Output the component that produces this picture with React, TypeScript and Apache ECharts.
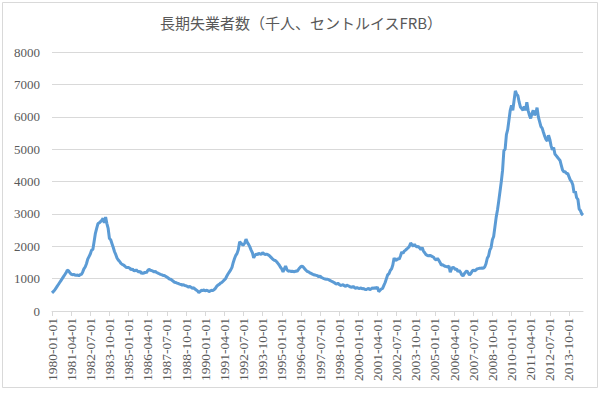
import React, { useEffect, useRef } from "react";
import * as echarts from "echarts";

const TITLE = "長期失業者数（千人、セントルイスFRB）";
const START_YEAR = 1980;

// Monthly long-term unemployed (thousands), one row per year (Jan..Dec)
const y1980 = [560, 600, 640, 700, 760, 820, 880, 940, 1000, 1060, 1120, 1180];
const y1981 = [1260, 1240, 1180, 1140, 1120, 1130, 1110, 1100, 1110, 1090, 1120, 1130];
const y1982 = [1200, 1300, 1360, 1460, 1600, 1680, 1760, 1880, 1900, 2150, 2400, 2550];
const y1983 = [2700, 2720, 2760, 2800, 2860, 2720, 2900, 2700, 2550, 2240, 2200, 2080];
const y1984 = [1960, 1830, 1740, 1630, 1570, 1530, 1470, 1440, 1420, 1390, 1350, 1340];
const y1985 = [1340, 1320, 1270, 1300, 1250, 1240, 1270, 1230, 1200, 1230, 1160, 1180];
const y1986 = [1160, 1210, 1180, 1250, 1290, 1260, 1250, 1230, 1210, 1220, 1190, 1170];
const y1987 = [1150, 1130, 1120, 1100, 1100, 1070, 1050, 1020, 990, 980, 950, 920];
const y1988 = [890, 880, 860, 850, 830, 820, 800, 810, 790, 780, 760, 740];
const y1989 = [760, 730, 700, 720, 680, 650, 620, 570, 600, 640, 630, 650];
const y1990 = [620, 640, 630, 600, 620, 640, 630, 660, 700, 760, 800, 820];
const y1991 = [860, 880, 920, 960, 1000, 1080, 1150, 1210, 1270, 1350, 1500, 1620];
const y1992 = [1720, 1780, 1900, 2140, 2100, 2050, 2040, 2100, 2220, 2120, 2060, 1980];
const y1993 = [1880, 1800, 1640, 1720, 1760, 1740, 1780, 1760, 1750, 1800, 1770, 1740];
const y1994 = [1760, 1740, 1720, 1680, 1640, 1600, 1570, 1560, 1520, 1470, 1420, 1350];
const y1995 = [1300, 1210, 1300, 1390, 1280, 1230, 1240, 1220, 1230, 1220, 1210, 1240];
const y1996 = [1220, 1280, 1330, 1370, 1390, 1350, 1300, 1260, 1220, 1210, 1180, 1160];
const y1997 = [1140, 1120, 1110, 1100, 1090, 1060, 1080, 1040, 1020, 1000, 990, 980];
const y1998 = [980, 960, 940, 920, 900, 880, 850, 830, 860, 820, 790, 800];
const y1999 = [810, 780, 760, 800, 780, 760, 740, 730, 760, 720, 700, 730];
const y2000 = [700, 690, 720, 680, 700, 670, 660, 680, 700, 660, 680, 720];
const y2001 = [690, 720, 700, 740, 600, 640, 680, 700, 790, 880, 1000, 1120];
const y2002 = [1150, 1250, 1300, 1420, 1640, 1560, 1580, 1620, 1600, 1700, 1820, 1780];
const y2003 = [1850, 1880, 1920, 1950, 2000, 2100, 2050, 2000, 2060, 2000, 1980, 1990];
const y2004 = [1950, 1900, 1960, 1850, 1800, 1740, 1720, 1700, 1720, 1700, 1680, 1660];
const y2005 = [1600, 1580, 1620, 1570, 1500, 1420, 1430, 1400, 1380, 1370, 1360, 1390];
const y2006 = [1200, 1300, 1350, 1330, 1280, 1300, 1220, 1250, 1200, 1120, 1080, 1150];
const y2007 = [1200, 1240, 1180, 1110, 1150, 1220, 1270, 1240, 1260, 1300, 1310, 1320];
const y2008 = [1320, 1330, 1320, 1360, 1460, 1630, 1700, 1880, 1960, 2200, 2300, 2600];
const y2009 = [2900, 3120, 3400, 3700, 4000, 4350, 4950, 5000, 5450, 5600, 5900, 6200];
const y2010 = [6350, 6200, 6500, 6800, 6700, 6650, 6450, 6300, 6250, 6200, 6320, 6200];
const y2011 = [6450, 6200, 6050, 5950, 6100, 6200, 6050, 6100, 6280, 6000, 5850, 5700];
const y2012 = [5650, 5520, 5400, 5300, 5250, 5430, 5300, 5100, 4980, 5050, 4850, 4800];
const y2013 = [4750, 4700, 4650, 4500, 4350, 4300, 4300, 4250, 4250, 4150, 4050, 4000];
const y2014 = [3900, 3650, 3700, 3500, 3450, 3150, 3100, 3000, 2960];

const YEARS = [
  y1980, y1981, y1982, y1983, y1984, y1985, y1986, y1987, y1988, y1989,
  y1990, y1991, y1992, y1993, y1994, y1995, y1996, y1997, y1998, y1999,
  y2000, y2001, y2002, y2003, y2004, y2005, y2006, y2007, y2008, y2009,
  y2010, y2011, y2012, y2013, y2014,
];

const values: number[] = [];
const dates: string[] = [];
YEARS.forEach((row, yi) => {
  row.forEach((v, mi) => {
    values.push(v);
    const m = String(mi + 1).padStart(2, "0");
    dates.push(`${START_YEAR + yi}-${m}-01`);
  });
});

export default function App() {
  const ref = useRef<HTMLDivElement>(null);
  useEffect(() => {
    if (!ref.current) return;
    const chart = echarts.init(ref.current, undefined, { renderer: "svg" });
    const serif = "Liberation Serif";
    chart.setOption({
      animation: false,
      backgroundColor: "#ffffff",
      textStyle: { fontFamily: serif },
      title: {
        text: TITLE,
        left: 296,
        textAlign: "center",
        top: 10,
        textStyle: {
          fontFamily: "Noto Sans CJK JP",
          fontSize: 15,
          fontWeight: "normal",
          color: "#595959",
        },
      },
      graphic: [
        {
          type: "rect",
          shape: { x: 2.5, y: 2.5, width: 595, height: 385 },
          style: { fill: "none", stroke: "#d9d9d9", lineWidth: 1 },
          silent: true,
        },
      ],
      grid: { left: 52, right: 20, top: 52, bottom: 87, containLabel: false },
      xAxis: {
        type: "category",
        data: dates,
        boundaryGap: false,
        axisLine: { lineStyle: { color: "#d9d9d9" } },
        axisTick: { interval: 14, length: 5, lineStyle: { color: "#d9d9d9" } },
        axisLabel: {
          interval: 14,
          rotate: 90,
          margin: 7,
          fontFamily: serif,
          fontSize: 13.5,
          color: "#595959",
        },
        splitLine: { show: false },
      },
      yAxis: {
        type: "value",
        min: 0,
        max: 8000,
        interval: 1000,
        axisLine: { show: false },
        axisTick: { show: false },
        axisLabel: {
          fontFamily: serif,
          fontSize: 13,
          color: "#595959",
          margin: 12,
          formatter: (v: number) => String(v),
        },
        splitLine: { lineStyle: { color: "#d9d9d9", width: 1 } },
      },
      series: [
        {
          type: "line",
          data: values,
          showSymbol: false,
          symbol: "none",
          lineStyle: { color: "#5B9BD5", width: 3 },
          itemStyle: { color: "#5B9BD5" },
        },
      ],
    });
    return () => chart.dispose();
  }, []);
  return (
    <div
      ref={ref}
      style={{ position: "absolute", left: 0, top: 0, width: 603, height: 398 }}
    />
  );
}
